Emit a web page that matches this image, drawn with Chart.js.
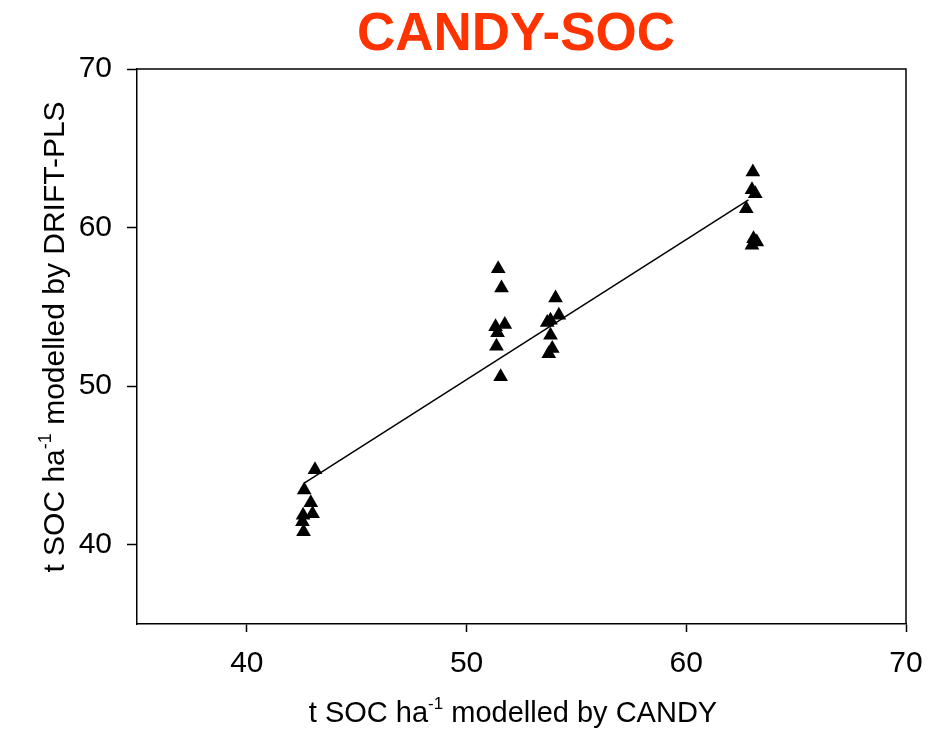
<!DOCTYPE html>
<html>
<head>
<meta charset="utf-8">
<script src="https://cdn.jsdelivr.net/npm/chart.js"></script>
<style>
  html, body { margin: 0; padding: 0; background: #fff; }
  canvas { display: block; }
</style>
</head>
<body>
<canvas id="chart" width="941" height="737"></canvas>
<script>
// values (t SOC / ha)
const candyX = [
    43.10, 42.61, 42.91, 42.99, 42.56, 42.53, 42.58,
    51.44, 51.59, 51.32, 51.74, 51.41, 51.36, 51.55,
    54.05, 53.82, 54.20, 53.67, 53.82, 53.90, 53.74,
    63.03, 62.99, 63.14, 62.73, 63.06, 63.21, 62.99
];
const driftY = [
    44.73, 43.45, 42.65, 41.96, 41.86, 41.45, 40.82,
    57.41, 56.19, 53.74, 53.88, 53.36, 52.52, 50.59,
    55.56, 54.16, 54.47, 54.01, 53.21, 52.37, 52.05,
    63.50, 62.39, 62.14, 61.19, 59.30, 59.09, 58.89
];
// regression line end points
const fitX = [42.61, 62.83];
const fitY = [43.89, 61.74];
const xTicks = [40, 50, 60, 70];
const yTicks = [40, 50, 60, 70];

const FONT = "'Liberation Sans', Arial, sans-serif";

// draws "t SOC ha" + superscript "-1" + rest, centred on (0,0) of current transform
function drawSupLabel(ctx, before, sup, after, size) {
    const supSize = Math.round(size * 0.6);
    ctx.font = size + 'px ' + FONT;
    const w1 = ctx.measureText(before).width;
    const w3 = ctx.measureText(after).width;
    ctx.font = supSize + 'px ' + FONT;
    const w2 = ctx.measureText(sup).width;
    let x = -(w1 + w2 + w3) / 2;
    ctx.textAlign = 'left';
    ctx.textBaseline = 'alphabetic';
    ctx.font = size + 'px ' + FONT;
    ctx.fillText(before, x, 0);
    x += w1;
    ctx.font = supSize + 'px ' + FONT;
    ctx.fillText(sup, x, -size * 0.45);
    x += w2;
    ctx.font = size + 'px ' + FONT;
    ctx.fillText(after, x, 0);
}

const decor = {
    id: 'decor',
    afterDraw(chart) {
        const { ctx, chartArea: a } = chart;
        ctx.save();
        // top and right frame
        ctx.strokeStyle = '#000';
        ctx.lineWidth = 1.5;
        ctx.beginPath();
        ctx.moveTo(a.left, a.top);
        ctx.lineTo(a.right, a.top);
        ctx.lineTo(a.right, a.bottom);
        ctx.stroke();

        // main title
        ctx.fillStyle = '#FF3300';
        ctx.font = 'bold 53px ' + FONT;
        ctx.textAlign = 'center';
        ctx.textBaseline = 'alphabetic';
        ctx.fillText('CANDY-SOC', 516, 50);

        // axis titles
        ctx.fillStyle = '#000';
        ctx.save();
        ctx.translate(513, 722);
        drawSupLabel(ctx, 't SOC ha', '-1', ' modelled by CANDY', 29);
        ctx.restore();

        ctx.save();
        ctx.translate(64, 337);
        ctx.rotate(-Math.PI / 2);
        drawSupLabel(ctx, 't SOC ha', '-1', ' modelled by DRIFT-PLS', 30);
        ctx.restore();
        ctx.restore();
    }
};

new Chart(document.getElementById('chart'), {
    type: 'scatter',
    data: {
        datasets: [
            {
                label: 'DRIFT-PLS vs CANDY',
                data: candyX.map((x, i) => ({ x: x, y: driftY[i] })),
                pointStyle: 'triangle',
                pointRadius: 8.5,
                pointHoverRadius: 8.5,
                backgroundColor: '#000',
                borderColor: '#000',
                borderWidth: 0
            },
            {
                label: 'fit',
                type: 'line',
                data: fitX.map((x, i) => ({ x: x, y: fitY[i] })),
                showLine: true,
                borderColor: '#000',
                borderWidth: 1.5,
                pointRadius: 0,
                fill: false
            }
        ]
    },
    options: {
        responsive: false,
        animation: false,
        layout: { padding: { top: 69, right: 35, left: 0, bottom: 0 } },
        plugins: {
            legend: { display: false },
            tooltip: { enabled: false },
            title: { display: false }
        },
        scales: {
            x: {
                type: 'linear',
                min: 35,
                max: 70,
                afterBuildTicks: s => { s.ticks = xTicks.map(v => ({ value: v })); },
                afterFit: s => { s.height = 113; },
                grid: { drawOnChartArea: false, tickLength: 8, color: '#000', tickWidth: 1.5 },
                border: { display: true, color: '#000', width: 1.5 },
                ticks: { color: '#000', padding: 14, font: { family: FONT, size: 30 } }
            },
            y: {
                type: 'linear',
                min: 35,
                max: 70,
                afterBuildTicks: s => { s.ticks = yTicks.map(v => ({ value: v })); },
                afterFit: s => { s.width = 137; },
                grid: { drawOnChartArea: false, tickLength: 10, color: '#000', tickWidth: 1.5 },
                border: { display: true, color: '#000', width: 1.5 },
                ticks: { color: '#000', padding: 15, font: { family: FONT, size: 30 } }
            }
        }
    },
    plugins: [decor]
});
</script>
</body>
</html>
